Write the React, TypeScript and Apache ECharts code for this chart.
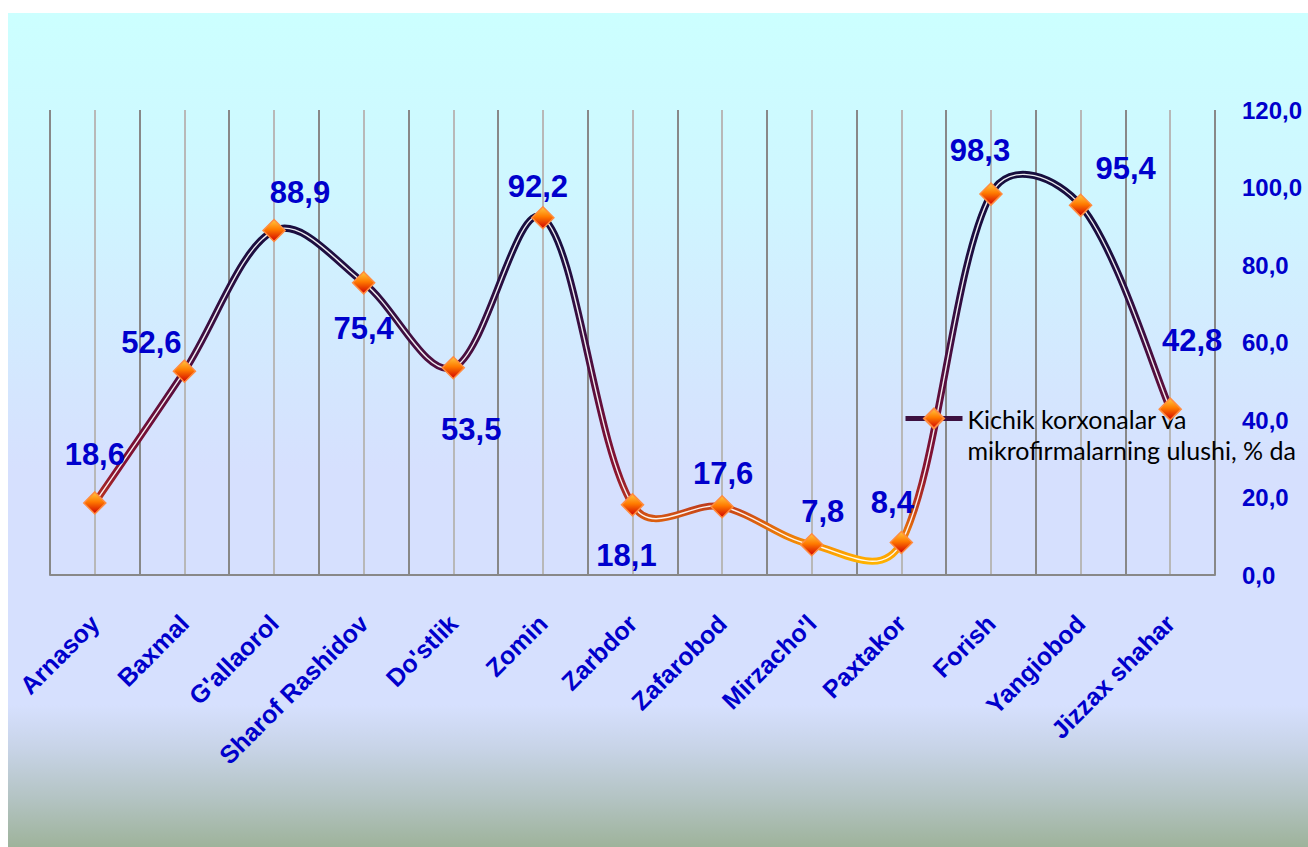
import React, { useEffect, useRef } from "react";
import * as echarts from "echarts";

const categories = [
  "Arnasoy",
  "Baxmal",
  "G'allaorol",
  "Sharof Rashidov",
  "Do'stlik",
  "Zomin",
  "Zarbdor",
  "Zafarobod",
  "Mirzacho'l",
  "Paxtakor",
  "Forish",
  "Yangiobod",
  "Jizzax shahar",
];

const values = [18.6, 52.6, 88.9, 75.4, 53.5, 92.2, 18.1, 17.6, 7.8, 8.4, 98.3, 95.4, 42.8];

const seriesName = "Kichik korxonalar va\nmikrofirmalarning ulushi, % da";

const yMin = 0;
const yMax = 120;
const yStep = 20;

// label placement (layout only)
const labelOffsets: [number, number][] = [
  [0, -48],
  [-33, -29],
  [26, -38],
  [0, 46],
  [18, 62],
  [-5, -31],
  [-6, 51],
  [1, -33],
  [11, -33],
  [-9, -40],
  [-11, -44],
  [45, -37],
  [22, -69],
];

const TENSION = 0.17;

const fmt = (v: number) => v.toFixed(1).replace(".", ",");

const BLUE = "#0000CC";
const FONT = "'Liberation Sans', Arial, sans-serif";

export default function App() {
  const ref = useRef<HTMLDivElement>(null);

  useEffect(() => {
    if (!ref.current) return;
    const chart = echarts.init(ref.current, null, { renderer: "svg" });

    const gridTop = 97;
    const gridBottomY = 562;

    const lineGradient = new echarts.graphic.LinearGradient(
      0,
      gridTop,
      0,
      gridBottomY,
      [
        { offset: 0, color: "#120E3C" },
        { offset: 0.3, color: "#1C0E40" },
        { offset: 0.5, color: "#420E40" },
        { offset: 0.65, color: "#680E3A" },
        { offset: 0.78, color: "#8A1430" },
        { offset: 0.84, color: "#B83420" },
        { offset: 0.88, color: "#D85A10" },
        { offset: 0.92, color: "#EE8008" },
        { offset: 0.96, color: "#FFA800" },
        { offset: 1, color: "#FFC400" },
      ],
      true
    );

    const markerGradient = {
      type: "linear",
      x: 0,
      y: 0,
      x2: 0,
      y2: 1,
      colorStops: [
        { offset: 0, color: "#FFC840" },
        { offset: 0.45, color: "#FF7A00" },
        { offset: 1, color: "#D00000" },
      ],
    };

    const halfCats = categories.flatMap((c) => [c + "#a", c + "#b"]);

    const renderCurve = (params: any, api: any) => {
      if (params.dataIndex !== 0) return null;
      const n = values.length;
      const pts = values.map((v, i) => api.coord([i, v]));
      const cpNext: number[][] = [];
      const cpPrev: number[][] = [];
      for (let i = 0; i < n; i++) {
        const p = pts[i];
        const prev = i > 0 ? pts[i - 1] : p;
        const next = i < n - 1 ? pts[i + 1] : p;
        const vx = next[0] - prev[0];
        const vy = next[1] - prev[1];
        const lp = Math.hypot(p[0] - prev[0], p[1] - prev[1]);
        const ln = Math.hypot(next[0] - p[0], next[1] - p[1]);
        let fNext = 1;
        let fPrev = 1;
        if (i > 0 && i < n - 1) {
          const ratio = ln / (lp + ln);
          fNext = Math.min(1.3, Math.sqrt(2 * ratio));
          fPrev = Math.min(1.3, Math.sqrt(2 * (1 - ratio)));
        }
        cpNext.push([p[0] + vx * TENSION * fNext, p[1] + vy * TENSION * fNext]);
        cpPrev.push([p[0] - vx * TENSION * fPrev, p[1] - vy * TENSION * fPrev]);
      }
      const seg = (i: number, stroke: any, w: number) => ({
        type: "bezierCurve",
        shape: {
          x1: pts[i][0],
          y1: pts[i][1],
          x2: pts[i + 1][0],
          y2: pts[i + 1][1],
          cpx1: cpNext[i][0],
          cpy1: cpNext[i][1],
          cpx2: cpPrev[i + 1][0],
          cpy2: cpPrev[i + 1][1],
        },
        style: { stroke, lineWidth: w, fill: null, lineCap: "round" },
      });
      const children: any[] = [];
      for (let i = 0; i < n - 1; i++) children.push(seg(i, lineGradient, 7));
      for (let i = 0; i < n - 1; i++) children.push(seg(i, "rgba(255,255,255,0.92)", 1.4));
      return { type: "group", children };
    };

    chart.setOption({
      animation: false,
      backgroundColor: "transparent",
      grid: { left: 42, right: 93, top: gridTop, bottom: 272, containLabel: false },
      legend: {
        show: true,
        data: [seriesName],
        left: 895,
        top: 359,
        padding: 0,
        itemWidth: 57,
        itemHeight: 25,
        selectedMode: false,
        formatter: (name: string) => " \n" + name,
        lineStyle: { color: "#3C1040", width: 5, opacity: 1 },
        itemStyle: { opacity: 1 },
        textStyle: {
          fontFamily: "Lato, 'Open Sans', sans-serif",
          fontSize: 25,
          color: "#000000",
          lineHeight: 31,
        },
      },
      xAxis: [
        {
          type: "category",
          data: categories,
          boundaryGap: true,
          z: 2,
          axisLine: { show: true, lineStyle: { color: "#888888", width: 2 } },
          axisTick: { show: false },
          splitLine: { show: true, lineStyle: { color: "#888888", width: 2 } },
          axisLabel: {
            rotate: 45,
            margin: 44,
            interval: 0,
            color: BLUE,
            fontFamily: FONT,
            fontWeight: "bold",
            fontSize: 25,
          },
        },
        {
          type: "category",
          data: halfCats,
          boundaryGap: true,
          position: "bottom",
          z: 1,
          axisLine: { show: false },
          axisTick: { show: false },
          axisLabel: { show: false },
          splitLine: {
            show: true,
            interval: (i: number) => i % 2 === 1,
            lineStyle: { color: "#B8B8B8", width: 2 },
          },
        },
      ],
      yAxis: {
        type: "value",
        position: "right",
        min: yMin,
        max: yMax,
        interval: yStep,
        axisLine: { show: false },
        axisTick: { show: false },
        splitLine: { show: false },
        axisLabel: {
          margin: 27,
          color: BLUE,
          fontFamily: FONT,
          fontWeight: "bold",
          fontSize: 24,
          formatter: (v: number) => fmt(v),
        },
      },
      series: [
        {
          name: seriesName,
          type: "line",
          xAxisIndex: 0,
          data: values,
          symbol: "diamond",
          symbolSize: 22,
          showSymbol: false,
          silent: true,
          z: 1,
          itemStyle: { color: markerGradient, borderColor: "#FF8C40", borderWidth: 1.5 },
          lineStyle: { color: "#3C1040", width: 0, opacity: 0 },
        },
        {
          name: "curve",
          type: "custom",
          xAxisIndex: 0,
          data: values.map((v, i) => [i, v]),
          renderItem: renderCurve,
          silent: true,
          clip: false,
          z: 3,
        },
        {
          name: "markers",
          type: "scatter",
          xAxisIndex: 0,
          data: values.map((v, i) => ({ value: v, label: { offset: labelOffsets[i] } })),
          symbol: "diamond",
          symbolSize: 22,
          z: 4,
          itemStyle: { color: markerGradient, borderColor: "#FF8C40", borderWidth: 1.5, opacity: 1 },
          label: {
            show: true,
            position: "inside",
            color: BLUE,
            fontFamily: FONT,
            fontWeight: "bold",
            fontSize: 31,
            formatter: (p: any) => fmt(p.value),
          },
        },
      ],
    });

    return () => chart.dispose();
  }, []);

  return (
    <div
      style={{
        position: "fixed",
        left: 8,
        top: 13,
        width: 1300,
        height: 834,
        background:
          "linear-gradient(to bottom, #CCFFFF 0%, #CFF6FF 22%, #D4E6FE 45%, #D6E0FE 55%, #D6E0FE 83%, #C8D4E8 88%, #B4C4C4 94%, #9EB39B 100%)",
      }}
    >
      <div ref={ref} style={{ width: 1300, height: 834 }} />
    </div>
  );
}
